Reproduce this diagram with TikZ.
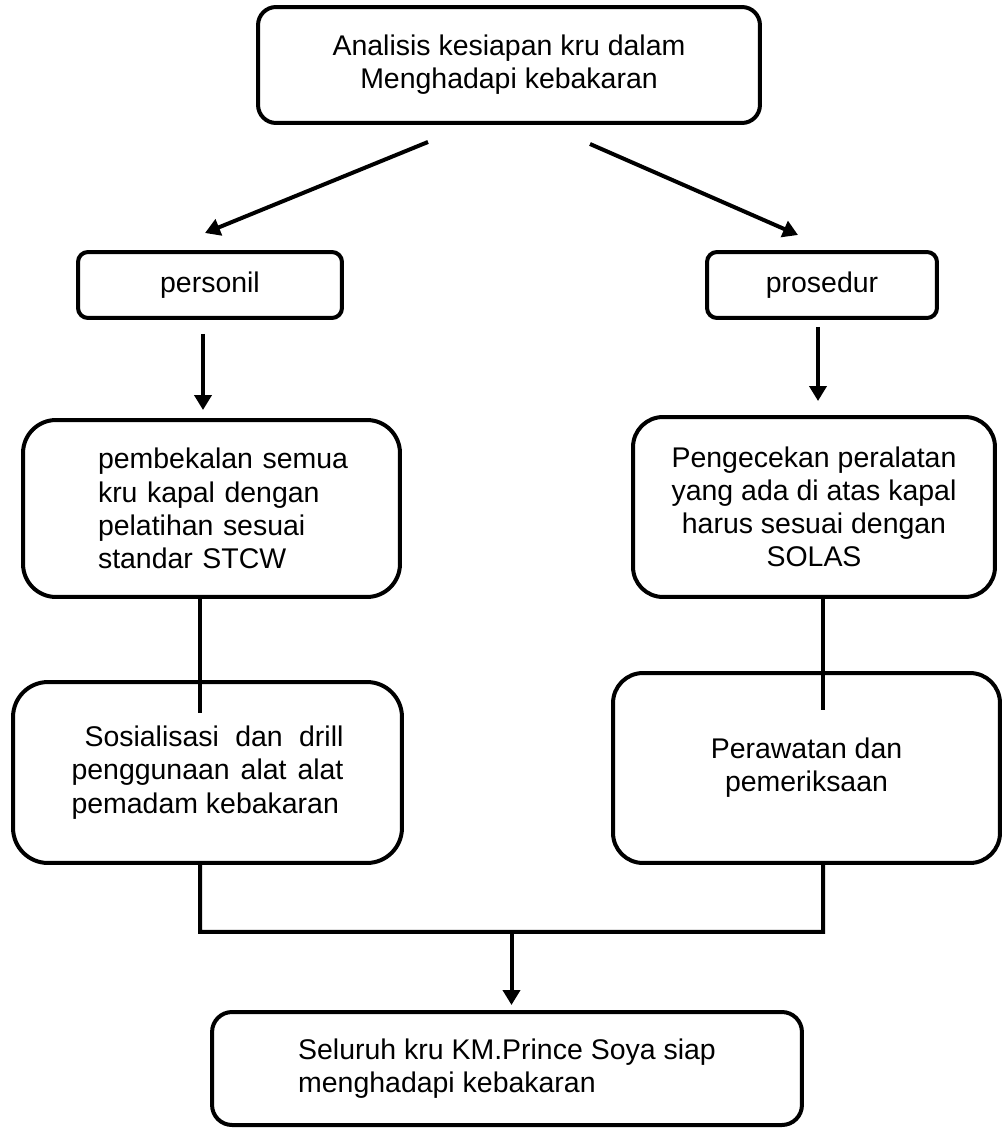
\documentclass[tikz,border=0pt]{standalone}
\usepackage{fontspec}
\setmainfont{Liberation Sans}
\usetikzlibrary{positioning, arrows.meta, calc}

\begin{document}
\begin{tikzpicture}[
      x=0.02cm, y=-0.02cm,
      block/.style={
        draw=black,
        line width=0.08cm,
        inner sep=0pt,
        align=center,
        font=\fontsize{16.2pt}{18.9pt}\selectfont,
      },
      line/.style={line width=0.08cm},
      arr/.style={line width=0.08cm, -{Triangle[length=3mm,width=3.4mm]}},
      ]
      \useasboundingbox (0,0) rectangle (1003,1128);
      \node[block, minimum width=10.04cm, minimum height=2.32cm, rounded corners=0.36cm] (title) at (509,65) {Analisis kesiapan kru dalam\\Menghadapi kebakaran};
      \node[block, minimum width=5.28cm, minimum height=1.32cm, rounded corners=0.2cm] (personil) at (210,285) {personil};
      \node[block, minimum width=4.6cm, minimum height=1.32cm, rounded corners=0.2cm] (prosedur) at (822,285) {prosedur};
      \node[block, text width=7.54cm, align=left, minimum height=3.54cm, rounded corners=0.66cm] (bekal) at (211.5,508.5)
        {\leftskip=1.5cm pembekalan semua\\kru kapal dengan\\pelatihan sesuai\\standar STCW\par};
      \node[block, minimum width=7.24cm, minimum height=3.6cm, rounded corners=0.6cm] (cek) at (814,507)
        {Pengecekan peralatan\\yang ada di atas kapal\\harus sesuai dengan\\SOLAS};
      \node[block, text width=5.44cm, align=justify, minimum width=7.78cm, minimum height=3.62cm, rounded corners=0.7cm] (drill) at (207.5,772.5)
        {\hspace*{0.26cm}Sosialisasi dan drill\linebreak penggunaan alat alat\linebreak pemadam kebakaran};
      \node[block, minimum width=7.74cm, minimum height=3.8cm, rounded corners=0.6cm] (rawat) at (806.5,768)
        {Perawatan dan\\pemeriksaan};
      \node[block, align=left, minimum width=11.8cm, minimum height=2.26cm, rounded corners=0.4cm] (siap) at (507,1068.5)
        {Seluruh kru KM.Prince Soya siap\\menghadapi kebakaran};

      % arrows from the top box
      \coordinate (aL1) at ($(title.south)+(-81,17)$);
      \coordinate (aL2) at ($(personil.north)+(-5,-17)$);
      \coordinate (aR1) at ($(title.south)+(81,19)$);
      \coordinate (aR2) at ($(prosedur.north)+(-24,-15)$);
      \draw[arr] (aL1) -- (aL2);
      \draw[arr] (aR1) -- (aR2);

      \coordinate (pA) at ($(personil.south)+(-7,14)$);
      \coordinate (pB) at ($(prosedur.south)+(-4,7)$);
      \draw[arr, shorten >=0.16cm] (pA) -- (pA |- bekal.north);
      \draw[arr, shorten >=0.28cm] (pB) -- (pB |- cek.north);

      \coordinate (bD) at ($(drill.north)+(-7.5,33)$);
      \coordinate (cR) at ($(rawat.north)+(16.5,39)$);
      \draw[line] (bD |- bekal.south) -- (bD);
      \draw[line] (cR |- cek.south) -- (cR);

      % join to the last box
      \coordinate (jL) at ($(drill.south)+(-7.5,67)$);
      \coordinate (jR) at ($(rawat.south)+(16.5,67)$);
      \coordinate (jM) at ($(jL)!0.5!(jR)$);
      \draw[line] (jL |- drill.south) -- (jL) -- (jR) -- (jR |- rawat.south);
      \draw[arr, shorten >=0.1cm] (jM) -- (jM |- siap.north);
\end{tikzpicture}
\end{document}
